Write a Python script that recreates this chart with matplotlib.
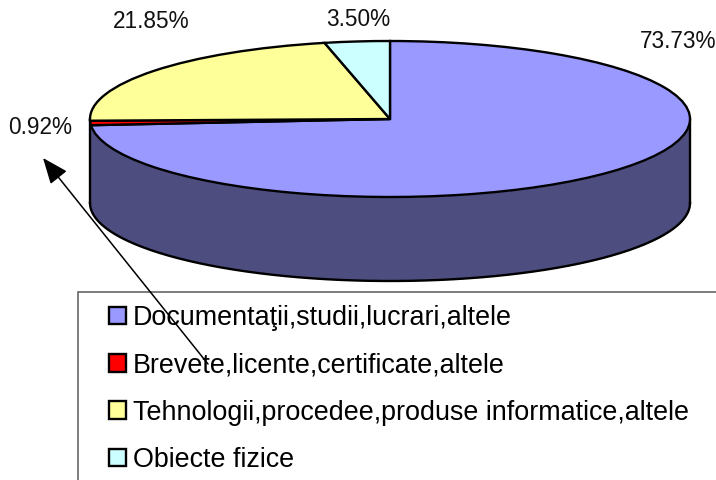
import matplotlib
matplotlib.use("Agg")
import matplotlib.pyplot as plt
import numpy as np
from matplotlib.patches import Rectangle

plt.rcParams['font.family'] = ['Liberation Sans', 'DejaVu Sans']

categories = ["Documentaţii,studii,lucrari,altele", "Brevete,licente,certificate,altele",
              "Tehnologii,procedee,produse informatice,altele", "Obiecte fizice"]
values = [73.73, 0.92, 21.85, 3.50]
colors = ["#9999ff", "#ff0000", "#ffff99", "#ccffff"]
side_color = "#4d4d80"

# pie geometry in pixels
W, H = 716, 480
cx, cy, rx, ry = 390, 119, 300, 78
depth = 84 / ry

fig = plt.figure(figsize=(W / 100, H / 100), dpi=100)
ax = fig.add_axes([0, 0, 1, 1])

wedges, _ = ax.pie(values, colors=colors, startangle=90, counterclock=False,
                   wedgeprops=dict(edgecolor="black", linewidth=1.7, zorder=3))
ax.set_aspect("auto")
ax.set_xlim(-cx / rx, (W - cx) / rx)
ax.set_ylim((cy - H) / ry, cy / ry)

# side of the cylinder
t = np.linspace(np.pi, 2 * np.pi, 200)
ax.fill_between(np.cos(t), np.sin(t), np.sin(t) - depth, color=side_color, lw=0, zorder=1)
ax.plot(np.cos(t), np.sin(t) - depth, color="black", lw=1.7, zorder=2)
ax.plot([-1, -1], [0, -depth], color="black", lw=1.7, zorder=2)
ax.plot([1, 1], [0, -depth], color="black", lw=1.7, zorder=2)

# overlay in pixel coordinates
ov = fig.add_axes([0, 0, 1, 1])
ov.set_xlim(0, W)
ov.set_ylim(H, 0)
ov.axis("off")

label_pos = [(678, 41), (40, 127), (151, 22), (358, 19)]
for v, (x, y) in zip(values, label_pos):
    ov.text(x, y, f"{v:.2f}%", fontsize=16.3, ha="center", va="center", color="#111111")

ov.add_patch(Rectangle((78, 292), 700, 250, facecolor="white", edgecolor="#666666", lw=1.2, zorder=2))

leg = ov.legend(wedges, categories, loc="upper left", bbox_to_anchor=(109 / W, 1 - 305 / H),
                bbox_transform=fig.transFigure, frameon=False, fontsize=19.4, borderpad=0,
                borderaxespad=0, handlelength=0.63, handleheight=0.63, handletextpad=0.26,
                labelspacing=0.79)
leg.set_zorder(3)
for h in leg.legend_handles:
    h.set_linewidth(1.7)

ov.annotate("", xy=(43, 158), xytext=(208, 364),
            arrowprops=dict(arrowstyle="-|>,head_length=1.6,head_width=0.65", color="black",
                            lw=1.1, shrinkA=0, shrinkB=0), zorder=6)

fig.savefig("out.png", dpi=100)
